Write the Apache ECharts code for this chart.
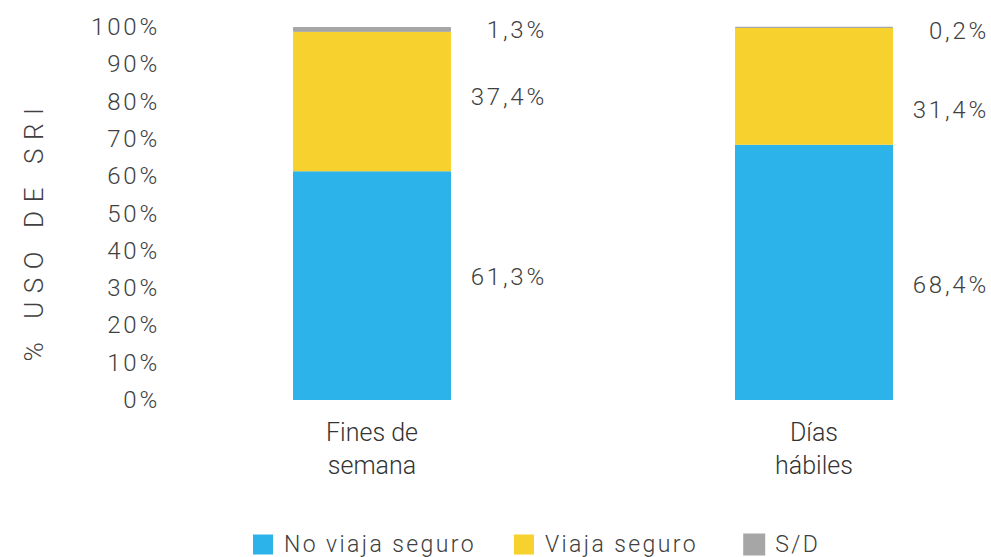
<!DOCTYPE html>
<html>
<head>
<meta charset="utf-8">
<script src="https://cdn.jsdelivr.net/npm/echarts@6/dist/echarts.min.js"></script>
<style>
  html, body { margin: 0; padding: 0; background: #fff; }
  #chart { width: 991px; height: 557px; }
  /* tracking of the original typography */
  #chart svg text[style*="24px"] { letter-spacing: 2.8px; }
  #chart svg text[style*="23px"] { letter-spacing: 2.4px; }
  #chart svg text[style*="26px"] { letter-spacing: 8.6px; }
</style>
</head>
<body>
<div id="chart"></div>
<script>
// datos
const categorias = ['Fines de\nsemana', 'Días\nhábiles']
const noViajaSeguro = [61.3, 68.4]
const viajaSeguro = [37.4, 31.4]
const sinDato = [1.3, 0.2]

// ajuste vertical de las etiquetas (px)
const ajusteNoViaja = [-9, 12.5]
const ajusteViaja = [-5, 24]
const ajusteSD = [1, 4]

const colores = ['#2CB3E9', '#F7D12D', '#A6A6A6']
const texto = '#404040'

function porcentaje (p) {
  return p.value.toFixed(1).replace('.', ',') + '%'
}

function serie (nombre, valores, ajuste, color, borde) {
  return {
    name: nombre,
    type: 'bar',
    stack: 'total',
    barWidth: 158,
    itemStyle: { color: color, borderColor: color, borderWidth: borde },
    label: {
      show: true,
      position: 'right',
      align: 'right',
      distance: 96,
      color: texto,
      fontFamily: 'Roboto',
      fontWeight: 300,
      fontSize: 24,
      formatter: porcentaje
    },
    data: valores.map(function (v, i) {
      return { value: v, label: { offset: [0, ajuste[i]] } }
    })
  }
}

const chart = echarts.init(document.getElementById('chart'), null, { renderer: 'svg' })
chart.setOption({
  animation: false,
  grid: { left: 151, top: 27, width: 884, height: 373, outerBoundsMode: 'none' },
  legend: {
    left: 248,
    top: 528,
    itemWidth: 20,
    itemHeight: 20,
    itemGap: 74,
    icon: 'rect',
    textStyle: {
      color: texto,
      fontFamily: 'Roboto',
      fontWeight: 300,
      fontSize: 23,
      padding: [0, 0, 0, 6]
    },
    data: ['No viaja seguro', 'Viaja seguro', 'S/D']
  },
  xAxis: {
    type: 'category',
    data: categorias,
    axisLine: { show: false },
    axisTick: { show: false },
    axisLabel: {
      margin: 16,
      color: '#333',
      fontFamily: 'Roboto',
      fontWeight: 300,
      fontSize: 25,
      lineHeight: 33
    }
  },
  yAxis: {
    type: 'value',
    min: 0,
    max: 100,
    interval: 10,
    name: '% USO DE SRI',
    nameLocation: 'middle',
    nameRotate: 90,
    nameGap: 104,
    nameTextStyle: {
      color: texto,
      fontFamily: 'Roboto',
      fontWeight: 300,
      fontSize: 26,
      padding: [0, 34, 0, 0]
    },
    axisLine: { show: false },
    axisTick: { show: false },
    splitLine: { show: false },
    axisLabel: {
      margin: -9,
      color: texto,
      fontFamily: 'Roboto',
      fontWeight: 300,
      fontSize: 24,
      formatter: '{value}%'
    }
  },
  series: [
    serie('No viaja seguro', noViajaSeguro, ajusteNoViaja, colores[0], 0),
    serie('Viaja seguro', viajaSeguro, ajusteViaja, colores[1], 0),
    serie('S/D', sinDato, ajusteSD, colores[2], 1)
  ]
})
</script>
</body>
</html>
